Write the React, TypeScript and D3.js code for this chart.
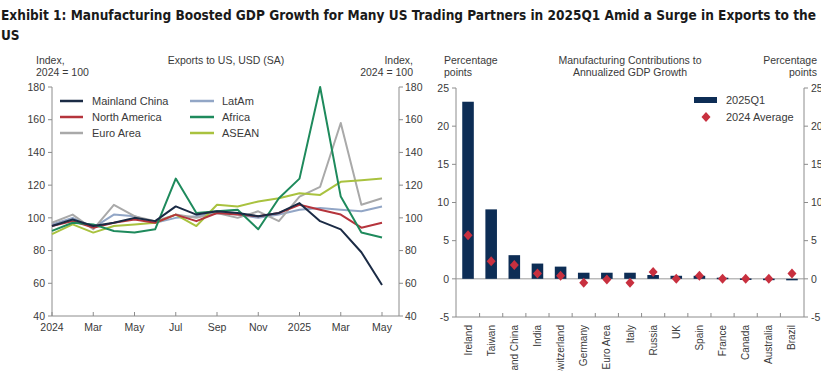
import * as d3 from "d3";

// ---- line chart data (index, 2024 = 100), Jan 2024 .. May 2025 ----
const monthCount = 17;
const xTickIdx = [0, 2, 4, 6, 8, 10, 12, 14, 16];
const xTickLabels = ["2024", "Mar", "May", "Jul", "Sep", "Nov", "2025", "Mar", "May"];
const yTicksLeft = [40, 60, 80, 100, 120, 140, 160, 180];

const mainlandChina = [95, 99, 95, 97, 100, 98, 107, 102, 104, 103, 101, 103, 109, 98, 93, 79, 59];
const northAmerica = [95, 98, 94, 97, 99, 97, 102, 98, 103, 102, 101, 103, 108, 105, 102, 94, 97];
const euroArea = [97, 102, 93, 108, 101, 98, 102, 100, 103, 100, 104, 98, 113, 119, 158, 108, 112];
const latAm = [96, 100, 94, 102, 101, 97, 100, 101, 103, 102, 100, 102, 105, 106, 105, 104, 107];
const africa = [92, 97, 96, 92, 91, 93, 124, 103, 104, 105, 93, 112, 124, 180, 113, 91, 88];
const asean = [90, 96, 91, 95, 96, 97, 102, 95, 108, 107, 110, 112, 115, 114, 122, 123, 124];

const seriesNames = ["Mainland China", "North America", "Euro Area", "LatAm", "Africa", "ASEAN"];
const seriesColors = ["#1b2b45", "#b5343c", "#a9a9a9", "#92a6c6", "#1e8a5c", "#a9c23f"];
const seriesValues = [mainlandChina, northAmerica, euroArea, latAm, africa, asean];

// ---- bar chart data (percentage points) ----
const countries = ["Ireland", "Taiwan", "Mainland China", "India", "Switzerland", "Germany", "Euro Area", "Italy", "Russia", "UK", "Spain", "France", "Canada", "Australia", "Brazil"];
const q1_2025 = [23.2, 9.1, 3.1, 2.0, 1.6, 0.8, 0.8, 0.8, 0.5, 0.4, 0.4, 0.15, 0.05, 0.02, -0.1];
const avg2024 = [5.7, 2.3, 1.8, 0.7, 0.4, -0.5, -0.1, -0.5, 0.9, 0.0, 0.4, 0.0, 0.0, 0.0, 0.7];
const yTicksRight = [-5, 0, 5, 10, 15, 20, 25];

const FONT = "'Liberation Sans', Arial, sans-serif";
const AXIS = "#8c8c8c";
const TXT = "#3a3a3a";
const FS = 10.5;

export default function App() {
  const width = 821;
  const height = 371;

  // line chart scales
  const x = d3.scaleLinear().domain([0, monthCount - 1]).range([52, 382]);
  const y = d3.scaleLinear().domain([40, 180]).range([316, 87]);
  const line = d3
    .line<number>()
    .x((_, i) => x(i))
    .y((d) => y(d));

  // bar chart scales
  const xb = d3.scaleBand().domain(countries).range([456, 804]).paddingInner(0.5).paddingOuter(0.27);
  const yb = d3.scaleLinear().domain([-5, 25]).range([317, 88]);
  const step = xb.step();

  const legendRows = [0, 1, 2];

  return (
    <svg
      width={width}
      height={height}
      style={{ position: "absolute", left: 0, top: 0, background: "#fff" }}
      fontFamily={FONT}
    >
      {/* title */}
      <text
        x={1}
        y={20}
        fontFamily="'DejaVu Sans Condensed', 'DejaVu Sans', sans-serif"
        fontWeight="bold"
        fontSize={13.5}
        fill="#1a1a1a"
        textLength={815}
        lengthAdjust="spacingAndGlyphs"
      >
        Exhibit 1: Manufacturing Boosted GDP Growth for Many US Trading Partners in 2025Q1 Amid a Surge in Exports to the
      </text>
      <text
        x={1}
        y={40}
        fontFamily="'DejaVu Sans Condensed', 'DejaVu Sans', sans-serif"
        fontWeight="bold"
        fontSize={13.5}
        fill="#1a1a1a"
      >
        US
      </text>

      {/* ---------- line chart ---------- */}
      <g fontSize={FS} fill={TXT}>
        <text x={36} y={64}>Index,</text>
        <text x={36} y={76}>2024 = 100</text>
        <text x={226} y={64} textAnchor="middle">Exports to US, USD (SA)</text>
        <text x={413} y={64} textAnchor="end">Index,</text>
        <text x={413} y={76} textAnchor="end">2024 = 100</text>
      </g>

      {/* axes */}
      <line x1={52} x2={52} y1={87} y2={316} stroke={AXIS} />
      <line x1={399} x2={399} y1={87} y2={316} stroke={AXIS} />
      <line x1={52} x2={399} y1={316} y2={316} stroke={AXIS} />
      {yTicksLeft.map((t) => (
        <g key={"yl" + t}>
          <line x1={48} x2={52} y1={y(t)} y2={y(t)} stroke={AXIS} />
          <text x={45} y={y(t)} dy="0.35em" textAnchor="end" fontSize={FS} fill={TXT}>
            {t}
          </text>
          <line x1={399} x2={403} y1={y(t)} y2={y(t)} stroke={AXIS} />
          <text x={405} y={y(t)} dy="0.35em" fontSize={FS} fill={TXT}>
            {t}
          </text>
        </g>
      ))}
      {xTickIdx.map((idx, i) => (
        <g key={"xt" + idx}>
          <line x1={x(idx)} x2={x(idx)} y1={312} y2={316} stroke={AXIS} />
          <text x={x(idx)} y={331} textAnchor="middle" fontSize={FS} fill={TXT}>
            {xTickLabels[i]}
          </text>
        </g>
      ))}

      {/* series, drawn so that the Africa / China lines sit on top like the original */}
      {[3, 2, 5, 1, 4, 0].map((s) => (
        <path
          key={seriesNames[s]}
          d={line(seriesValues[s]) ?? ""}
          fill="none"
          stroke={seriesColors[s]}
          strokeWidth={2}
          strokeLinejoin="round"
        />
      ))}

      {/* legend */}
      {legendRows.map((r) => {
        const a = [0, 1, 2][r];
        const b = [3, 4, 5][r];
        const ly = 101 + r * 16;
        return (
          <g key={"lg" + r} fontSize={11} fill={TXT}>
            <line x1={60} x2={83} y1={ly} y2={ly} stroke={seriesColors[a]} strokeWidth={2.5} />
            <text x={92} y={ly} dy="0.35em">{seriesNames[a]}</text>
            <line x1={190} x2={214} y1={ly} y2={ly} stroke={seriesColors[b]} strokeWidth={2.5} />
            <text x={222} y={ly} dy="0.35em">{seriesNames[b]}</text>
          </g>
        );
      })}

      {/* ---------- bar chart ---------- */}
      <g fontSize={FS} fill={TXT}>
        <text x={444} y={64}>Percentage</text>
        <text x={444} y={76}>points</text>
        <text x={630} y={64} textAnchor="middle">Manufacturing Contributions to</text>
        <text x={630} y={76} textAnchor="middle">Annualized GDP Growth</text>
        <text x={817} y={64} textAnchor="end">Percentage</text>
        <text x={817} y={76} textAnchor="end">points</text>
      </g>

      <line x1={456} x2={456} y1={88} y2={317} stroke={AXIS} />
      <line x1={804} x2={804} y1={88} y2={317} stroke={AXIS} />
      <line x1={456} x2={804} y1={317} y2={317} stroke={AXIS} />
      <line x1={456} x2={804} y1={yb(0)} y2={yb(0)} stroke="#9a9a9a" />
      {yTicksRight.map((t) => (
        <g key={"yr" + t}>
          <line x1={452} x2={456} y1={yb(t)} y2={yb(t)} stroke={AXIS} />
          <text x={449} y={yb(t)} dy="0.35em" textAnchor="end" fontSize={FS} fill={TXT}>
            {t}
          </text>
          <line x1={804} x2={808} y1={yb(t)} y2={yb(t)} stroke={AXIS} />
          <text x={811} y={yb(t)} dy="0.35em" fontSize={FS} fill={TXT}>
            {t}
          </text>
        </g>
      ))}
      {countries.slice(1).map((c) => {
        const bx = (xb(c) ?? 0) - (step * xb.paddingInner()) / 2;
        return <line key={"ct" + c} x1={bx} x2={bx} y1={313} y2={317} stroke={AXIS} />;
      })}

      {countries.map((c, i) => {
        const v = q1_2025[i];
        return (
          <rect
            key={"bar" + c}
            x={xb(c)}
            y={yb(Math.max(0, v))}
            width={xb.bandwidth()}
            height={Math.max(1.5, Math.abs(yb(v) - yb(0)))}
            fill="#0d2d55"
          />
        );
      })}
      {countries.map((c, i) => {
        const cx = (xb(c) ?? 0) + xb.bandwidth() / 2;
        const cy = yb(avg2024[i]);
        return (
          <path
            key={"dm" + c}
            d={`M${cx},${cy - 5}L${cx + 4.5},${cy}L${cx},${cy + 5}L${cx - 4.5},${cy}Z`}
            fill="#c8303f"
          />
        );
      })}
      {countries.map((c) => {
        const cx = (xb(c) ?? 0) + xb.bandwidth() / 2;
        return (
          <text
            key={"cl" + c}
            transform={`translate(${cx},${325}) rotate(-90)`}
            dy="0.35em"
            textAnchor="end"
            fontSize={10}
            fill={TXT}
          >
            {c}
          </text>
        );
      })}

      {/* bar legend */}
      <rect x={694} y={97} width={23} height={6} fill="#0d2d55" />
      <text x={726} y={100} dy="0.35em" fontSize={11} fill={TXT}>2025Q1</text>
      <path d="M706,112L710.5,117L706,122L701.5,117Z" fill="#c8303f" />
      <text x={726} y={117} dy="0.35em" fontSize={11} fill={TXT}>2024 Average</text>
    </svg>
  );
}
